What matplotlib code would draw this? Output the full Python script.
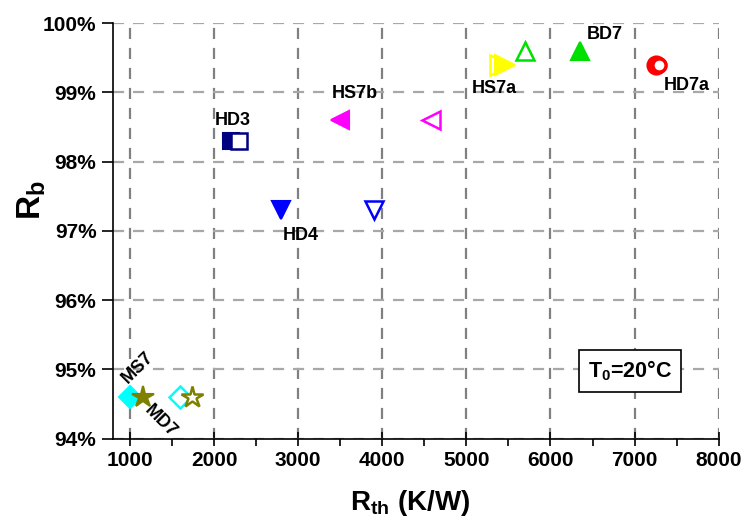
import matplotlib
matplotlib.use("Agg")
import matplotlib.pyplot as plt
from matplotlib.ticker import MultipleLocator, FuncFormatter

plt.rcParams['font.family'] = ['Liberation Sans', 'DejaVu Sans']
plt.rcParams['font.weight'] = 'bold'
plt.rcParams['mathtext.fontset'] = 'custom'
plt.rcParams['mathtext.rm'] = 'Liberation Sans:bold'
plt.rcParams['mathtext.bf'] = 'Liberation Sans:bold'
plt.rcParams['mathtext.it'] = 'Liberation Sans:bold'

# === Data: thermal resistance (K/W) vs R_b (%) ===
names = ["HD3", "HD4", "HS7b", "HS7a", "BD7", "HD7a", "MS7", "MD7"]
rth_filled = [2200, 2800, 3500, 5460, 6350, 7255, 1000, 1160]
rth_open = [2300, 3900, 4580, 5400, 5700, 7285, 1600, 1740]
rb = [98.3, 97.3, 98.6, 99.4, 99.6, 99.4, 94.6, 94.6]
markers = ["s", "v", "<", ">", "^", "o", "D", "*"]
colors = ["#000080", "#0000ff", "#ff00ff", "#ffff00", "#00e000", "#ff0000", "#00ffff", "#808000"]
sizes = [11, 13, 13, 14, 13, 13, 11, 16]
open_sizes = [11, 13, 13, 14, 13, 9.5, 11, 16]
open_widths = [1.8, 1.8, 1.8, 1.8, 1.8, 2.5, 1.8, 1.8]
# filled marker drawn above the open one for these
filled_on_top = ["HS7a"]

# label placement (data coords) and rotation
lab_x = [2225, 3033, 3675, 5330, 6648, 7623, 1089, 1357]
lab_y = [98.60, 96.93, 98.98, 99.06, 99.83, 99.10, 95.02, 94.25]
lab_rot = [0, 0, 0, 0, 0, 0, 45, -45]

fig = plt.figure(figsize=(7.44, 5.23), dpi=100)
ax = fig.add_axes([0.152, 0.161, 0.814, 0.795])

for i, name in enumerate(names):
    z_f, z_o = (4, 3) if name in filled_on_top else (3, 4)
    ax.plot(rth_filled[i], rb[i], linestyle='none', marker=markers[i], ms=sizes[i],
            color=colors[i], mec=colors[i], mew=1.5, zorder=z_f, clip_on=False)
    ax.plot(rth_open[i], rb[i], linestyle='none', marker=markers[i], ms=open_sizes[i],
            mfc='white', mec=colors[i], mew=open_widths[i], zorder=z_o, clip_on=False)
    ax.text(lab_x[i], lab_y[i], name, ha='center', va='center', rotation=lab_rot[i],
            fontsize=13, fontweight='bold', zorder=5)

ax.set_xlim(800, 8000)
ax.set_ylim(94, 100)
ax.xaxis.set_major_locator(MultipleLocator(1000))
ax.xaxis.set_minor_locator(MultipleLocator(500))
ax.yaxis.set_major_locator(MultipleLocator(1))
ax.yaxis.set_major_formatter(FuncFormatter(lambda v, p: f"{v:.0f}%"))

for s in ['top', 'right']:
    ax.spines[s].set_visible(False)
for s in ['left', 'bottom']:
    ax.spines[s].set_linewidth(1.2)

ax.tick_params(axis='x', which='major', direction='inout', length=10, width=1.2,
               labelsize=15, pad=4)
ax.tick_params(axis='x', which='minor', direction='out', length=5, width=1.2)
ax.tick_params(axis='y', which='major', direction='out', length=8, width=1.2,
               labelsize=15, pad=4)
for lbl in ax.get_xticklabels() + ax.get_yticklabels():
    lbl.set_fontweight('bold')

ax.grid(axis='x', which='major', linestyle=(0, (5, 4)), color='#808080', linewidth=1.6)
ax.grid(axis='y', which='major', linestyle=(0, (5, 4)), color='#a8a8a8', linewidth=1.6)
ax.set_axisbelow(True)

ax.set_xlabel(r"R$_\mathrm{th}$ (K/W)", fontsize=20, fontweight='bold')
ax.xaxis.set_label_coords(0.49, -0.118)
ax.set_ylabel(r"R$_\mathrm{b}$", fontsize=24, fontweight='bold')
ax.yaxis.set_label_coords(-0.108, 0.575)

ax.text(6945, 94.98, r"T$_\mathrm{0}$=20°C", ha='center', va='center', fontsize=15.5,
        fontweight='bold', zorder=6,
        bbox=dict(boxstyle='square,pad=0.4', facecolor='white', edgecolor='black', linewidth=1.2))

fig.savefig("out.png", dpi=100, facecolor='white')
